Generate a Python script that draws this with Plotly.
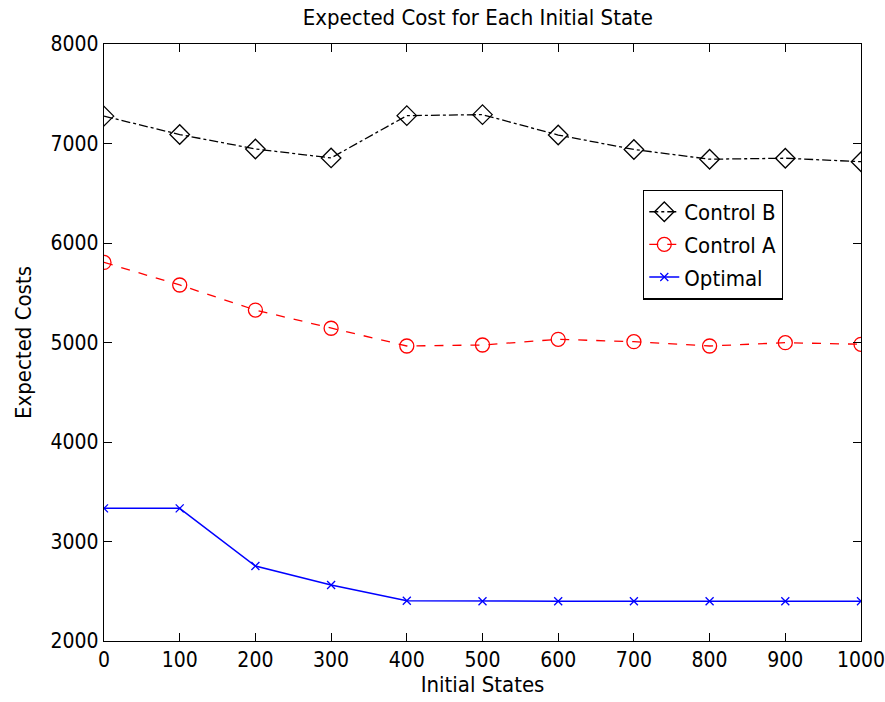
import plotly.graph_objects as go

# Initial states on the horizontal axis
initial_states = [0, 100, 200, 300, 400, 500, 600, 700, 800, 900, 1000]

# Expected cost per policy
control_b = [7275, 7090, 6945, 6855, 7280, 7290, 7085, 6940, 6842, 6852, 6817]
control_a = [5805, 5578, 5326, 5143, 4965, 4975, 5032, 5008, 4965, 4998, 4982]
optimal = [3333, 3333, 2754, 2563, 2405, 2400, 2400, 2400, 2400, 2400, 2400]

x_ticks = [0, 100, 200, 300, 400, 500, 600, 700, 800, 900, 1000]
y_ticks = [2000, 3000, 4000, 5000, 6000, 7000, 8000]

FONT = "DejaVu Sans Condensed, DejaVu Sans, Liberation Sans, Arial, sans-serif"

fig = go.Figure()

fig.add_trace(go.Scatter(
    x=initial_states, y=control_b, name="Control B", mode="lines+markers",
    line=dict(color="black", width=1.3, dash="dashdot"),
    marker=dict(symbol="diamond-open", size=15, color="black", line=dict(width=1.3)),
    legendgroup="b",
))
fig.add_trace(go.Scatter(
    x=initial_states, y=control_a, name="Control A", mode="lines+markers",
    line=dict(color="#ff0000", width=1.3, dash="dash"),
    marker=dict(symbol="circle-open", size=14, color="#ff0000", line=dict(width=1.3)),
    legendgroup="a",
))
fig.add_trace(go.Scatter(
    x=initial_states, y=optimal, name="Optimal", mode="lines+markers",
    line=dict(color="#0000ff", width=1.5),
    marker=dict(symbol="x-thin-open", size=8, color="#0000ff", line=dict(width=1.3, color="#0000ff")),
    legendgroup="o",
))

axis_common = dict(
    showgrid=False, zeroline=False, showline=True, linecolor="black", linewidth=1.3,
    mirror="ticks", ticks="inside", ticklen=8, tickwidth=1.2, tickcolor="black",
    tickfont=dict(family=FONT, size=21, color="black"), automargin=False,
    ticklabeloverflow="allow",
)

fig.update_layout(
    width=885, height=702,
    margin=dict(l=104, r=24, t=44, b=61),
    paper_bgcolor="white", plot_bgcolor="white",
    font=dict(family=FONT, size=22, color="black"),
    title=dict(text="Expected Cost for Each Initial State", x=0.54, xanchor="center",
               y=0.975, yanchor="middle", font=dict(family=FONT, size=22, color="black")),
    xaxis=dict(range=[0, 1000], tickvals=x_ticks, ticktext=[str(v) for v in x_ticks],
               title=dict(text="Initial States", standoff=4, font=dict(family=FONT, size=22)),
               **axis_common),
    yaxis=dict(range=[2000, 8000], tickvals=y_ticks, ticktext=[str(v) for v in y_ticks],
               title=dict(text="Expected Costs", standoff=12, font=dict(family=FONT, size=22)),
               **axis_common),
    legend=dict(
        x=0.712, y=0.756, xanchor="left", yanchor="top",
        bgcolor="white", bordercolor="black", borderwidth=1.3,
        font=dict(family=FONT, size=22, color="black"),
        traceorder="grouped", tracegroupgap=1,
    ),
    showlegend=True,
)

fig.write_html("out.html")
